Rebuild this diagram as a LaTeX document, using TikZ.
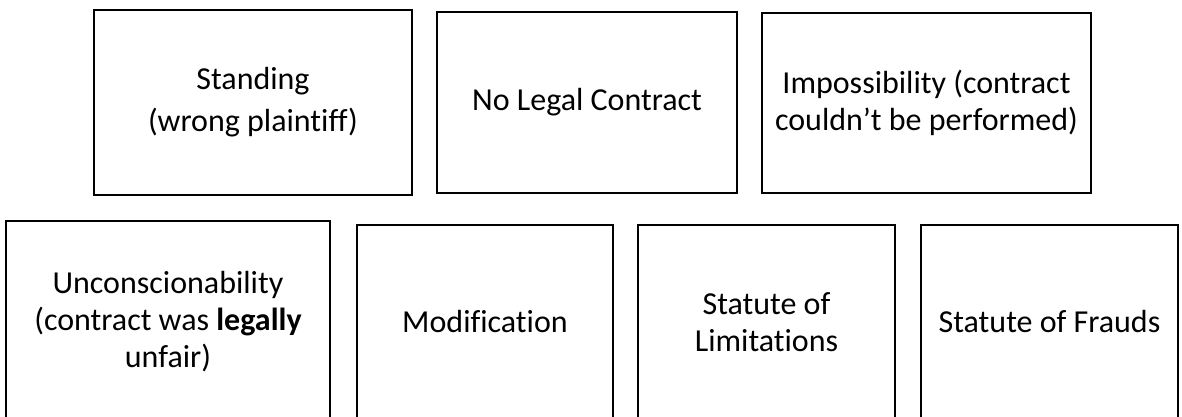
\documentclass[tikz,border=0pt]{standalone}
\usepackage{fontspec}
\setmainfont{Carlito}[Ligatures=NoCommon]
\begin{document}
\begin{tikzpicture}[x=1pt,y=-1pt,
  box/.style={draw=black,line width=2pt,rectangle,inner sep=0pt,align=center,
    font=\fontsize{32}{37}\selectfont}]
\useasboundingbox (0,0) rectangle (1182,417);
\clip (0,0) rectangle (1182,417);
% top row
\node[box,minimum width=318pt,minimum height=185pt] (standing) at (253,102.5)
  {Standing\\[5pt](wrong plaintiff)};
\node[box,minimum width=300pt,minimum height=181pt] (nolegal) at (587,102.5)
  {No Legal Contract};
\node[box,minimum width=329pt,minimum height=180pt] (impos) at (926.5,103)
  {Impossibility (contract\\couldn’t be performed)};
% bottom row
\node[box,minimum width=324pt,minimum height=202pt] (uncon) at (168,322)
  {Unconscionability\\(contract was \textbf{legally}\\unfair)};
\node[box,minimum width=256pt,minimum height=194pt] (modif) at (485,322)
  {Modification};
\node[box,minimum width=257pt,minimum height=194pt] (limit) at (766.5,322)
  {Statute of\\Limitations};
\node[box,minimum width=257pt,minimum height=194pt] (frauds) at (1049.5,322)
  {Statute of Frauds};
\end{tikzpicture}
\end{document}
